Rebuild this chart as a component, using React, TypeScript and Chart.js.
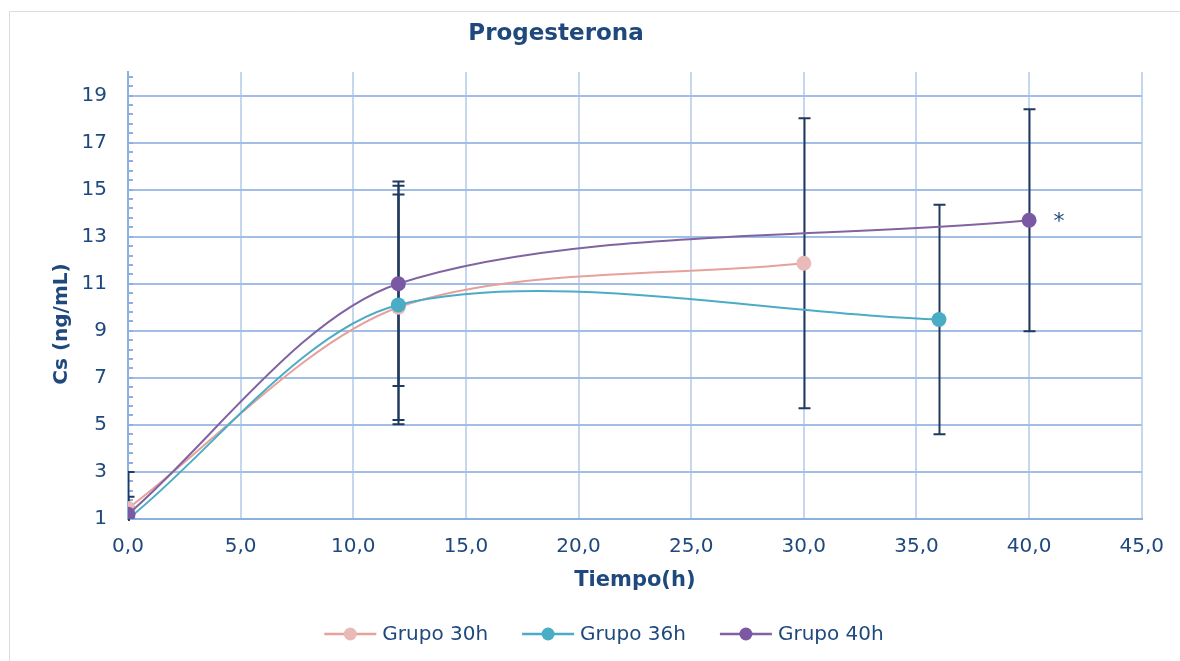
import React, { useEffect, useRef } from "react";
import { Chart, registerables } from "chart.js";

Chart.register(...registerables);

// ---- data ----
const seriesNames = ["Grupo 30h", "Grupo 36h", "Grupo 40h"];
const x30 = [0, 12, 30];
const y30 = [1.45, 10.0, 11.87];
const e30 = [1.55, 4.79, 6.16];
const x36 = [0, 12, 36];
const y36 = [1.0, 10.1, 9.48];
const e36 = [0.45, 5.07, 4.88];
const x40 = [0, 12, 40];
const y40 = [1.2, 11.0, 13.7];
const e40 = [0.75, 4.35, 4.72];
const xTicks = [0, 5, 10, 15, 20, 25, 30, 35, 40, 45];
const yTicks = [1, 3, 5, 7, 9, 11, 13, 15, 17, 19];
const chartTitle = "Progesterona";
const xTitle = "Tiempo(h)";
const yTitle = "Cs (ng/mL)";
const significanceMark = "*";

const lineColors = ["#E6A19C", "#4BACC6", "#8064A2"];
const markerColors = ["#E9BAB8", "#4BACC6", "#7B58A3"];
const TEXT = "#1F497D";
const FONT = '"DejaVu Sans", Verdana, sans-serif';

const xsAll = [x30, x36, x40];
const ysAll = [y30, y36, y40];
const esAll = [e30, e36, e40];

const decor = {
  id: "decor",
  beforeDatasetsDraw(chart: any) {
    const { ctx, chartArea } = chart;
    const xs = chart.scales.x;
    const ys = chart.scales.y;
    // minor ticks on y axis
    ctx.save();
    ctx.strokeStyle = "#8EB0E0";
    ctx.lineWidth = 2;
    for (let k = 0; k <= 47; k++) {
      const v = 1 + 0.4 * k;
      if (v > 20) break;
      const py = Math.round(ys.getPixelForValue(v));
      ctx.beginPath();
      ctx.moveTo(chartArea.left - 1, py);
      ctx.lineTo(chartArea.left + 5, py);
      ctx.stroke();
    }
    ctx.restore();
    // error bars
    ctx.save();
    ctx.beginPath();
    ctx.rect(chartArea.left, chartArea.top - 2, chartArea.right - chartArea.left, chartArea.bottom - chartArea.top + 4);
    ctx.clip();
    ctx.strokeStyle = "#22395E";
    ctx.lineWidth = 2;
    for (let s = 0; s < 3; s++) {
      for (let i = 0; i < xsAll[s].length; i++) {
        const px = Math.round(xs.getPixelForValue(xsAll[s][i])) + 0.5;
        const top = ys.getPixelForValue(ysAll[s][i] + esAll[s][i]);
        const bot = ys.getPixelForValue(ysAll[s][i] - esAll[s][i]);
        ctx.beginPath();
        ctx.moveTo(px, top);
        ctx.lineTo(px, bot);
        ctx.moveTo(px - 6, top);
        ctx.lineTo(px + 6, top);
        ctx.moveTo(px - 6, bot);
        ctx.lineTo(px + 6, bot);
        ctx.stroke();
      }
    }
    ctx.restore();
  },
  afterDraw(chart: any) {
    const { ctx, chartArea } = chart;
    const xs = chart.scales.x;
    const ys = chart.scales.y;
    ctx.save();
    // frame
    ctx.strokeStyle = "#DCDCDC";
    ctx.lineWidth = 1;
    ctx.beginPath();
    ctx.moveTo(9.5, chart.height + 2);
    ctx.lineTo(9.5, 11.5);
    ctx.lineTo(chart.width + 2, 11.5);
    ctx.stroke();
    // title
    ctx.fillStyle = TEXT;
    ctx.textAlign = "center";
    ctx.textBaseline = "middle";
    ctx.font = `bold 23px ${FONT}`;
    ctx.fillText(chartTitle, 556, 34);
    // x title
    ctx.font = `bold 21px ${FONT}`;
    ctx.fillText(xTitle, (chartArea.left + chartArea.right) / 2, 581);
    // y title
    ctx.save();
    ctx.translate(62, 324);
    ctx.rotate(-Math.PI / 2);
    ctx.font = `bold 20px ${FONT}`;
    ctx.fillText(yTitle, 0, 0);
    ctx.restore();
    // asterisk next to last point of Grupo 40h
    const lx = x40[x40.length - 1];
    const ly = y40[y40.length - 1];
    ctx.font = `22px ${FONT}`;
    ctx.fillText(significanceMark, xs.getPixelForValue(lx) + 30, ys.getPixelForValue(ly) + 2);
    // legend
    ctx.font = `20px ${FONT}`;
    ctx.textAlign = "left";
    const lineLen = 52;
    const gap = 6;
    const itemGap = 34;
    const widths = seriesNames.map((n) => ctx.measureText(n).width);
    let total = 0;
    widths.forEach((w, i) => {
      total += lineLen + gap + w + (i < widths.length - 1 ? itemGap : 0);
    });
    let cx = 604 - total / 2;
    const cy = 634;
    seriesNames.forEach((n, i) => {
      ctx.strokeStyle = lineColors[i];
      ctx.lineWidth = 2.5;
      ctx.beginPath();
      ctx.moveTo(cx, cy);
      ctx.lineTo(cx + lineLen, cy);
      ctx.stroke();
      ctx.fillStyle = markerColors[i];
      ctx.beginPath();
      ctx.arc(cx + lineLen / 2, cy, 6.5, 0, Math.PI * 2);
      ctx.fill();
      ctx.fillStyle = TEXT;
      ctx.fillText(n, cx + lineLen + gap, cy + 1);
      cx += lineLen + gap + widths[i] + itemGap;
    });
    ctx.restore();
  },
};

export default function App() {
  const ref = useRef<HTMLCanvasElement | null>(null);
  useEffect(() => {
    if (!ref.current) return;
    const datasets = seriesNames.map((name, s) => ({
      label: name,
      data: xsAll[s].map((x, i) => ({ x, y: ysAll[s][i] })),
      borderColor: lineColors[s],
      backgroundColor: markerColors[s],
      pointBackgroundColor: markerColors[s],
      pointBorderColor: markerColors[s],
      pointRadius: 7.5,
      pointBorderWidth: 0,
      borderWidth: 2,
      tension: 0.3,
      fill: false,
      order: 3 - s,
    }));
    const tickFont = { family: FONT, size: 20 };
    const chart = new Chart(ref.current, {
      type: "line",
      data: { datasets },
      plugins: [decor],
      options: {
        responsive: false,
        animation: false,
        events: [],
        layout: { padding: { left: 0, top: 72, right: 38, bottom: 0 } },
        plugins: {
          legend: { display: false },
          title: { display: false },
          tooltip: { enabled: false },
        },
        scales: {
          x: {
            type: "linear",
            min: 0,
            max: 45,
            afterBuildTicks: (s: any) => {
              s.ticks = xTicks.map((v) => ({ value: v }));
            },
            afterFit: (s: any) => {
              s.height = 142;
            },
            grid: { color: "#C6D6EF", lineWidth: 2, drawTicks: false },
            border: { color: "#8EB0E0", width: 2 },
            ticks: {
              padding: 16,
              color: TEXT,
              font: tickFont,
              maxRotation: 0,
              autoSkip: false,
              callback: (v: any) => Number(v).toFixed(1).replace(".", ","),
            },
          },
          y: {
            type: "linear",
            min: 1,
            max: 20,
            afterBuildTicks: (s: any) => {
              s.ticks = yTicks.map((v) => ({ value: v }));
            },
            afterFit: (s: any) => {
              s.width = 128;
            },
            grid: { color: "#A2BEE7", lineWidth: 2, drawTicks: false },
            border: { color: "#8EB0E0", width: 2 },
            ticks: {
              padding: 21,
              color: TEXT,
              font: tickFont,
              autoSkip: false,
              callback: (v: any) => String(v),
            },
          },
        },
      },
    } as any);
    return () => chart.destroy();
  }, []);
  return (
    <div style={{ position: "fixed", left: 0, top: 0, width: 1180, height: 661, background: "#fff" }}>
      <canvas ref={ref} width={1180} height={661} style={{ display: "block" }} />
    </div>
  );
}
